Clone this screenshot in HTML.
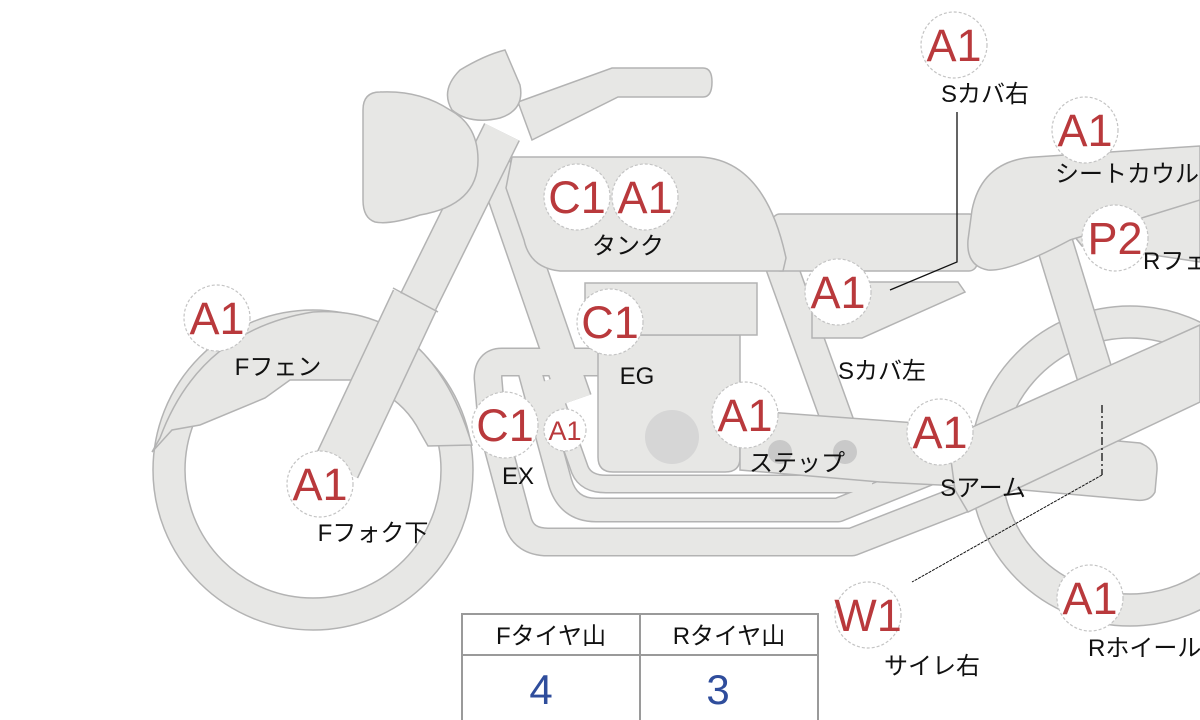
<!DOCTYPE html>
<html><head><meta charset="utf-8"><style>
body{margin:0;background:#fff;width:1200px;height:720px;overflow:hidden}
svg{display:block}
.l{font-family:"Liberation Sans","Noto Sans CJK JP",sans-serif;font-size:24px;fill:#111}
.b{font-family:"Liberation Sans",sans-serif;font-size:45px;fill:#b9393c}
.s{fill:#e7e7e5;stroke:#b3b3b3;stroke-width:1.5}
.c{fill:#fff;stroke:#c4c4c4;stroke-width:1.2;stroke-dasharray:3 2}
</style></head><body>
<svg width="1200" height="720" viewBox="0 0 1200 720">
<defs>
<path id="p1" d="M 600,362 L 502,362 Q 488,362 488,378 L 492,425 L 518,522 Q 524,542 548,542 L 852,542 L 965,498"/>
<path id="p2" d="M 530,372 L 560,482 Q 568,510 596,510 L 838,510 L 1000,445"/>
<path id="p3" d="M 548,380 L 580,470 Q 586,484 606,484 L 872,484"/>
<path id="dt" d="M 492,160 L 575,400"/>
<path id="rs" d="M 780,262 L 858,478"/>
<path id="uf" d="M 502,132 L 415,308"/>
<path id="lf" d="M 415,300 L 336,468"/>
<path id="st" d="M 1052,235 L 1098,385"/>
</defs>
<circle cx="1130" cy="466" r="160" class="s"/>
<circle cx="1130" cy="466" r="128" fill="#fff" stroke="#b3b3b3" stroke-width="1.5"/>
<circle cx="313" cy="470" r="160" class="s"/>
<circle cx="313" cy="470" r="128" fill="#fff" stroke="#b3b3b3" stroke-width="1.5"/>
<path class="s" d="M 152,452 L 160,438 Q 200,330 313,312 Q 430,305 472,445 L 428,446 L 420,432 Q 400,392 350,380 L 290,380 L 265,398 L 200,425 L 172,430 Z"/>
<g fill="none" stroke="#b3b3b3" stroke-linejoin="round">
<use href="#p1" stroke-width="29"/><use href="#p2" stroke-width="25"/><use href="#p3" stroke-width="19"/>
<use href="#dt" stroke-width="35"/><use href="#rs" stroke-width="33"/><use href="#st" stroke-width="38"/>
</g>
<g fill="none" stroke="#e7e7e5" stroke-linejoin="round">
<use href="#p1" stroke-width="26"/><use href="#p2" stroke-width="22"/><use href="#p3" stroke-width="16"/>
<use href="#dt" stroke-width="32"/><use href="#rs" stroke-width="30"/><use href="#st" stroke-width="35"/>
</g>
<path class="s" d="M 598,335 L 740,335 L 740,458 Q 740,472 725,472 L 613,472 Q 598,472 598,457 Z"/>
<rect x="585" y="283" width="172" height="52" class="s"/>
<circle cx="672" cy="437" r="27" fill="#d6d6d6"/>
<path class="s" d="M 740,410 L 930,424 L 1140,443 Q 1158,450 1157,470 L 1155,492 Q 1150,502 1135,500 L 1000,488 L 880,482 L 740,470 Z"/>
<circle cx="780" cy="452" r="12" fill="#c9c9c9"/>
<circle cx="845" cy="452" r="12" fill="#c9c9c9"/>
<path class="s" d="M 948,438 L 1200,325 L 1200,402 L 968,512 L 955,490 Z"/>
<path class="s" d="M 1060,218 L 1200,196 L 1200,262 L 1140,253 L 1082,246 Z"/>
<rect x="772" y="214" width="205" height="57" rx="8" class="s"/>
<path class="s" d="M 972,210 Q 982,160 1035,157 L 1200,146 L 1200,200 L 1070,240 Q 1010,272 988,270 Q 966,266 968,240 Z"/>
<path class="s" d="M 812,282 L 958,282 L 965,292 L 862,338 L 812,338 Z"/>
<path class="s" d="M 512,157 L 700,157 Q 765,160 786,258 L 783,271 L 560,271 Q 530,268 524,240 L 506,188 Z"/>
<g fill="none" stroke-linecap="butt">
<use href="#uf" stroke="#b3b3b3" stroke-width="40"/><use href="#uf" stroke="#e7e7e5" stroke-width="37"/>
<use href="#lf" stroke="#b3b3b3" stroke-width="49"/><use href="#lf" stroke="#e7e7e5" stroke-width="46"/>
</g>
<line x1="393" y1="288" x2="438" y2="312" stroke="#b3b3b3" stroke-width="1.5"/>
<path class="s" d="M 518,102 L 612,68 L 703,68 Q 712,68 712,82 Q 712,97 703,97 L 618,97 L 532,140 Z"/>
<path class="s" d="M 380,92 Q 420,90 450,110 Q 478,125 478,160 Q 478,205 420,215 Q 390,225 375,222 Q 363,218 363,200 L 363,110 Q 363,92 380,92 Z"/>
<path class="s" d="M 505,50 L 520,85 Q 525,110 500,118 Q 470,125 452,110 Q 440,90 460,70 Q 485,55 505,50 Z"/>
<polyline points="957,112 957,262 890,290" fill="none" stroke="#111" stroke-width="1.3"/>
<polyline points="1102,405 1102,475" fill="none" stroke="#111" stroke-width="1.3" stroke-dasharray="8 3 2 3"/>
<polyline points="1102,475 912,582" fill="none" stroke="#111" stroke-width="1" stroke-dasharray="3 1"/>
<g>
<circle cx="954" cy="45" r="33" class="c"/><text x="954" y="61" class="b" text-anchor="middle">A1</text>
<circle cx="1085" cy="130" r="33" class="c"/><text x="1085" y="146" class="b" text-anchor="middle">A1</text>
<circle cx="1115" cy="238" r="33" class="c"/><text x="1115" y="254" class="b" text-anchor="middle">P2</text>
<circle cx="577" cy="197" r="33" class="c"/><text x="577" y="213" class="b" text-anchor="middle">C1</text>
<circle cx="645" cy="197" r="33" class="c"/><text x="645" y="213" class="b" text-anchor="middle">A1</text>
<circle cx="217" cy="318" r="33" class="c"/><text x="217" y="334" class="b" text-anchor="middle">A1</text>
<circle cx="610" cy="322" r="33" class="c"/><text x="610" y="338" class="b" text-anchor="middle">C1</text>
<circle cx="838" cy="292" r="33" class="c"/><text x="838" y="308" class="b" text-anchor="middle">A1</text>
<circle cx="505" cy="425" r="33" class="c"/><text x="505" y="441" class="b" text-anchor="middle">C1</text>
<circle cx="565" cy="430" r="21" class="c"/><text x="565" y="440" class="b" text-anchor="middle" style="font-size:27px">A1</text>
<circle cx="745" cy="415" r="33" class="c"/><text x="745" y="431" class="b" text-anchor="middle">A1</text>
<circle cx="940" cy="432" r="33" class="c"/><text x="940" y="448" class="b" text-anchor="middle">A1</text>
<circle cx="320" cy="484" r="33" class="c"/><text x="320" y="500" class="b" text-anchor="middle">A1</text>
<circle cx="868" cy="615" r="33" class="c"/><text x="868" y="631" class="b" text-anchor="middle">W1</text>
<circle cx="1090" cy="598" r="33" class="c"/><text x="1090" y="614" class="b" text-anchor="middle">A1</text>
</g>
<g class="l">
<text x="985" y="102" text-anchor="middle">Sカバ右</text>
<text x="1055" y="182">シートカウル</text>
<text x="1143" y="269">Rフェンダー</text>
<text x="628" y="254" text-anchor="middle">タンク</text>
<text x="278" y="375" text-anchor="middle">Fフェン</text>
<text x="637" y="384" text-anchor="middle">EG</text>
<text x="882" y="379" text-anchor="middle">Sカバ左</text>
<text x="518" y="484" text-anchor="middle">EX</text>
<text x="797" y="471" text-anchor="middle">ステップ</text>
<text x="983" y="496" text-anchor="middle">Sアーム</text>
<text x="373" y="541" text-anchor="middle">Fフォク下</text>
<text x="932" y="674" text-anchor="middle">サイレ右</text>
<text x="1088" y="656">Rホイール</text>
</g>
<rect x="462" y="614" width="356" height="108" fill="#fff" stroke="#9a9a9a" stroke-width="2"/>
<line x1="462" y1="655" x2="818" y2="655" stroke="#9a9a9a" stroke-width="2"/>
<line x1="640" y1="614" x2="640" y2="720" stroke="#9a9a9a" stroke-width="2"/>
<text x="551" y="644" class="l" text-anchor="middle">Fタイヤ山</text>
<text x="729" y="644" class="l" text-anchor="middle">Rタイヤ山</text>
<text x="541" y="704" text-anchor="middle" style="font-family:'Liberation Sans',sans-serif;font-size:42px;fill:#2f4d9c">4</text>
<text x="718" y="704" text-anchor="middle" style="font-family:'Liberation Sans',sans-serif;font-size:42px;fill:#2f4d9c">3</text>
</svg>
</body></html>
